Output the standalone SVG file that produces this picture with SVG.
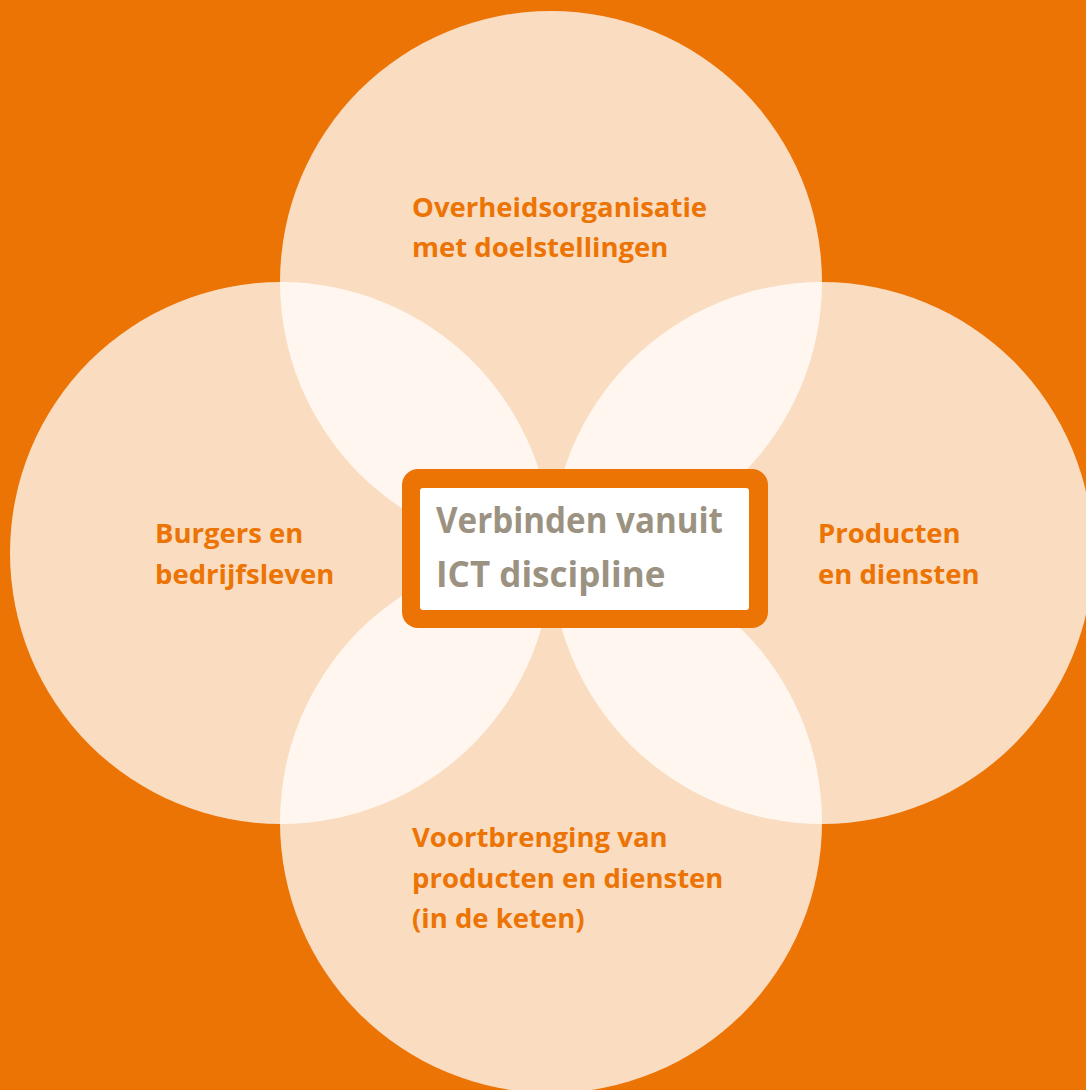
<svg xmlns="http://www.w3.org/2000/svg" width="1086" height="1090" viewBox="0 0 1086 1090">
<style>
.circle{fill:#ffffff;fill-opacity:0.75}
.lbl{font-family:"Open Sans","Liberation Sans",sans-serif;font-weight:700;font-size:27.5px;fill:#EC7405}
.ctr{font-family:"Open Sans","Liberation Sans",sans-serif;font-weight:700;font-size:35px;fill:#9B9281}
</style>
<rect x="0" y="0" width="1086" height="1090" fill="#EC7405"/>
<g id="node-overheid">
<circle class="circle" cx="551" cy="282" r="271"/>
<text class="lbl" x="412" y="217">Overheidsorganisatie</text>
<text class="lbl" x="412" y="257">met doelstellingen</text>
</g>
<g id="node-burgers">
<circle class="circle" cx="281" cy="553" r="271"/>
<text class="lbl" x="155" y="543">Burgers en</text>
<text class="lbl" x="155" y="584">bedrijfsleven</text>
</g>
<g id="node-producten">
<circle class="circle" cx="822" cy="553" r="271"/>
<text class="lbl" x="818" y="543">Producten</text>
<text class="lbl" x="818" y="584">en diensten</text>
</g>
<g id="node-voortbrenging">
<circle class="circle" cx="551" cy="822" r="271"/>
<text class="lbl" x="412" y="847">Voortbrenging van</text>
<text class="lbl" x="412" y="888">producten en diensten</text>
<text class="lbl" x="412" y="928">(in de keten)</text>
</g>
<g id="node-center">
<rect x="402" y="469" width="366" height="159" rx="16" fill="#EC7405"/>
<rect x="420" y="488" width="329" height="122" rx="3" fill="#ffffff"/>
<text class="ctr" x="436" y="533" textLength="287" lengthAdjust="spacingAndGlyphs">Verbinden vanuit</text>
<text class="ctr" x="436" y="587">ICT discipline</text>
</g>
</svg>
